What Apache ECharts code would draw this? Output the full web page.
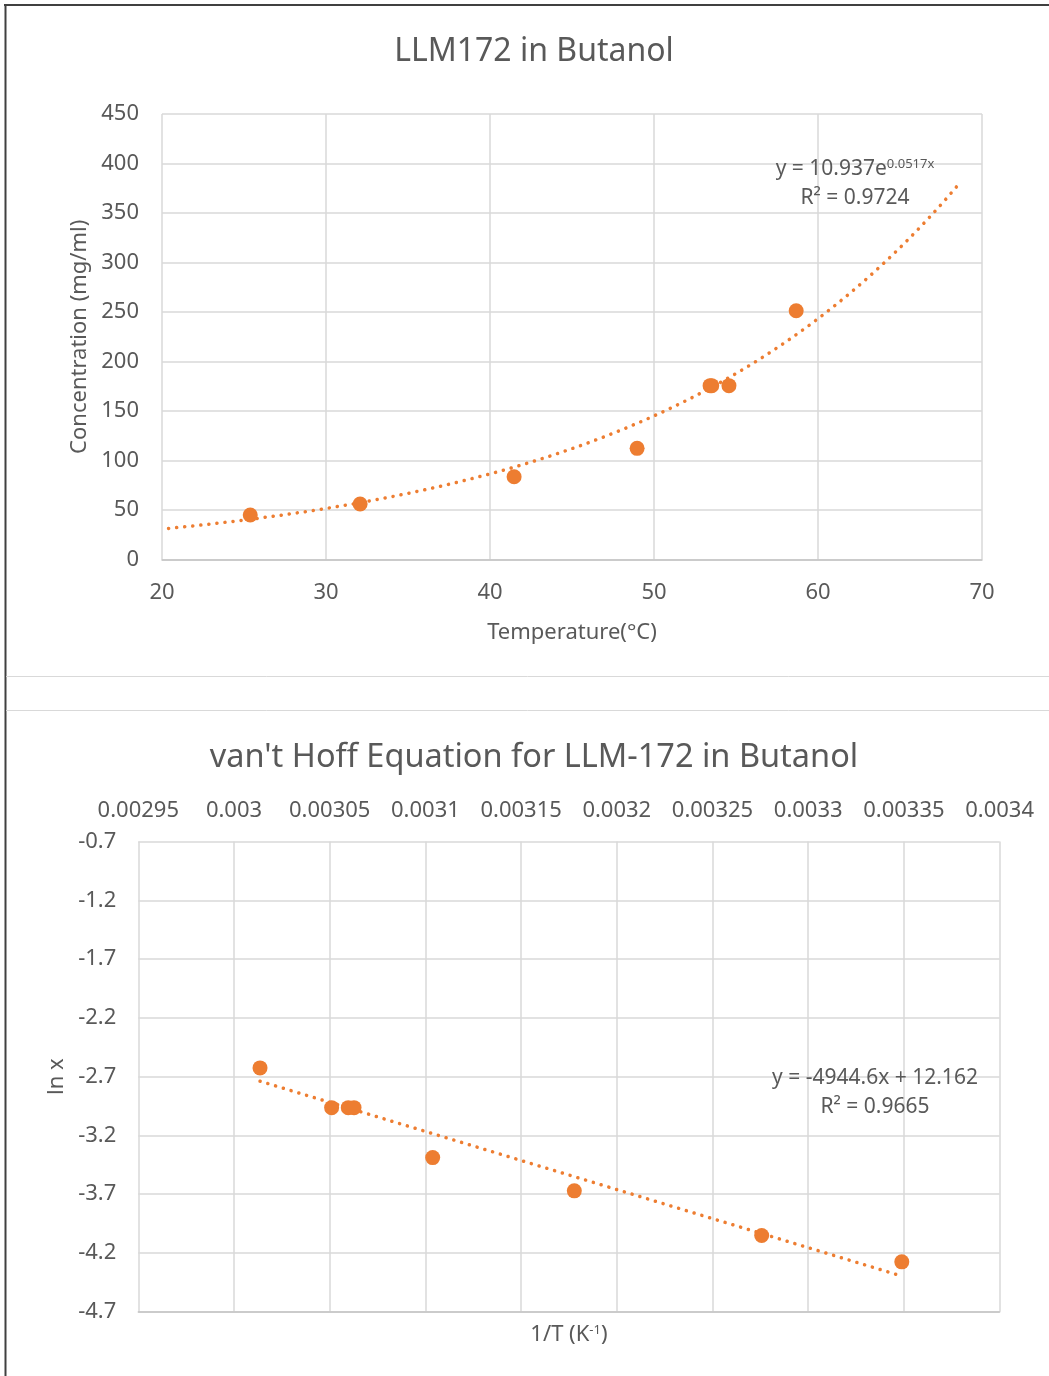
<!DOCTYPE html>
<html>
<head>
<meta charset="utf-8">
<title>LLM172 in Butanol</title>
<script src="https://cdn.jsdelivr.net/npm/echarts@6/dist/echarts.min.js"></script>
<style>
  html, body { margin: 0; padding: 0; background: #fff; }
  #chart { width: 1049px; height: 1376px; }
</style>
</head>
<body>
<div id="chart"></div>
<script>
// solubility readings (top chart)
const tempC = [25.38, 32.08, 41.47, 48.97, 53.42, 53.52, 54.57, 58.67]
const concMgMl = [44.9, 56.1, 83.6, 112.3, 175.6, 175.6, 175.6, 251.3]

// van't Hoff readings (bottom chart)
const invT = [0.0030136, 0.003051, 0.0030597, 0.0030627, 0.0031038, 0.0031778, 0.0032757, 0.0033489]
const lnX = [-2.626, -2.964, -2.964, -2.964, -3.389, -3.672, -4.052, -4.276]

// trendlines as given on the chart
const expA = 10.937
const expB = 0.0517
const expFrom = 20.4
const expTo = 68.6
const linSlope = -4944.6
const linIntercept = 12.162

const orange = '#ed7d31'
const textColor = '#595959'
const gridColor = '#d9d9d9'
const font = 'Noto Sans'

const pairs = (xs, ys) => xs.map((x, i) => [x, ys[i]])

const expTrend = []
for (let i = 0; i <= 120; i++) {
  const x = expFrom + (expTo - expFrom) * i / 120
  expTrend.push([x, expA * Math.exp(expB * x)])
}
const linX = [Math.min(...invT), Math.max(...invT)]
const linTrend = linX.map(x => [x, linSlope * x + linIntercept])

const labelStyle = { color: textColor, fontSize: 22, fontFamily: font }
const split = { show: true, lineStyle: { color: gridColor, width: 1.5 } }
const dotted = { color: orange, width: 3.5, type: [0.1, 8], cap: 'round' }
const sup = { fontSize: 13, fontFamily: font, color: textColor, verticalAlign: 'top', padding: [0, 0, 10, 0] }

const chart = echarts.init(document.getElementById('chart'))
chart.setOption({
  backgroundColor: '#fff',
  animation: false,
  textStyle: { fontFamily: font },
  title: [
    {
      text: 'LLM172 in Butanol',
      left: 529, top: 31, textAlign: 'center',
      textStyle: { color: textColor, fontSize: 32, fontWeight: 'normal', fontFamily: font }
    },
    {
      text: "van't Hoff Equation for LLM-172 in Butanol",
      left: 529, top: 736, textAlign: 'center',
      textStyle: { color: textColor, fontSize: 32.5, fontWeight: 'normal', fontFamily: font }
    }
  ],
  grid: [
    { left: 162, top: 114, width: 820, height: 445.5 },
    { left: 138.3, top: 841.5, width: 861.3, height: 470.2 }
  ],
  xAxis: [
    {
      gridIndex: 0, type: 'value', min: 20, max: 70, interval: 10,
      name: 'Temperature(°C)', nameLocation: 'middle', nameGap: 62,
      nameTextStyle: labelStyle,
      axisLine: { show: true, lineStyle: { color: '#c4c4c4', width: 1.5 } },
      axisTick: { show: false },
      axisLabel: { ...labelStyle, margin: 22 },
      splitLine: split
    },
    {
      gridIndex: 1, type: 'value', position: 'top',
      min: 0.00295, max: 0.0034, interval: 0.00005,
      axisLine: { show: false },
      axisTick: { show: false },
      axisLabel: { ...labelStyle, margin: 20, formatter: v => String(+v.toFixed(5)) },
      splitLine: split
    },
    {
      gridIndex: 1, type: 'value', position: 'bottom',
      min: 0.00295, max: 0.0034,
      name: '1/T (K{sup|-1})', nameLocation: 'middle', nameGap: 12,
      nameTextStyle: { ...labelStyle, rich: { sup: sup } },
      axisLine: { show: true, lineStyle: { color: '#c4c4c4', width: 1.5 } },
      axisTick: { show: false },
      axisLabel: { show: false },
      splitLine: { show: false }
    }
  ],
  yAxis: [
    {
      gridIndex: 0, type: 'value', min: 0, max: 450, interval: 50,
      name: 'Concentration (mg/ml)', nameLocation: 'middle', nameGap: 67,
      nameTextStyle: labelStyle,
      axisLine: { show: false },
      axisTick: { show: false },
      axisLabel: { ...labelStyle, margin: 23 },
      splitLine: split
    },
    {
      gridIndex: 1, type: 'value', min: -4.7, max: -0.7, interval: 0.5,
      name: 'ln x', nameLocation: 'middle', nameGap: 71,
      nameTextStyle: labelStyle,
      axisLine: { show: false },
      axisTick: { show: false },
      axisLabel: { ...labelStyle, margin: 22, formatter: v => String(+v.toFixed(1)) },
      splitLine: split
    }
  ],
  graphic: [
    { type: 'line', shape: { x1: 4, y1: 5, x2: 1049, y2: 5 }, style: { stroke: '#404040', lineWidth: 2 } },
    { type: 'line', shape: { x1: 5.5, y1: 4, x2: 5.5, y2: 1376 }, style: { stroke: '#404040', lineWidth: 2 } },
    { type: 'line', shape: { x1: 6, y1: 676.5, x2: 1049, y2: 676.5 }, style: { stroke: gridColor, lineWidth: 1 } },
    { type: 'line', shape: { x1: 6, y1: 710.5, x2: 1049, y2: 710.5 }, style: { stroke: gridColor, lineWidth: 1 } },
    {
      type: 'text', x: 855, y: 169, z: 10,
      style: {
        text: 'y = 10.937e{sup|0.0517x}', align: 'center', verticalAlign: 'middle',
        fill: textColor, fontSize: 21, fontFamily: font, rich: { sup: sup }
      }
    },
    {
      type: 'text', x: 855, y: 198, z: 10,
      style: { text: 'R² = 0.9724', align: 'center', verticalAlign: 'middle', fill: textColor, fontSize: 21, fontFamily: font }
    },
    {
      type: 'text', x: 875, y: 1078, z: 10,
      style: { text: 'y = -4944.6x + 12.162', align: 'center', verticalAlign: 'middle', fill: textColor, fontSize: 21, fontFamily: font }
    },
    {
      type: 'text', x: 875, y: 1107, z: 10,
      style: { text: 'R² = 0.9665', align: 'center', verticalAlign: 'middle', fill: textColor, fontSize: 21, fontFamily: font }
    }
  ],
  series: [
    {
      type: 'line', xAxisIndex: 0, yAxisIndex: 0, z: 2,
      data: expTrend, showSymbol: false, symbol: 'none',
      lineStyle: dotted, silent: true
    },
    {
      type: 'scatter', xAxisIndex: 0, yAxisIndex: 0, z: 3,
      data: pairs(tempC, concMgMl), symbolSize: 15,
      itemStyle: { color: orange, opacity: 1 }
    },
    {
      type: 'line', xAxisIndex: 1, yAxisIndex: 1, z: 2,
      data: linTrend, showSymbol: false, symbol: 'none',
      lineStyle: dotted, silent: true
    },
    {
      type: 'scatter', xAxisIndex: 1, yAxisIndex: 1, z: 3,
      data: pairs(invT, lnX), symbolSize: 15,
      itemStyle: { color: orange, opacity: 1 }
    }
  ]
})
</script>
</body>
</html>
